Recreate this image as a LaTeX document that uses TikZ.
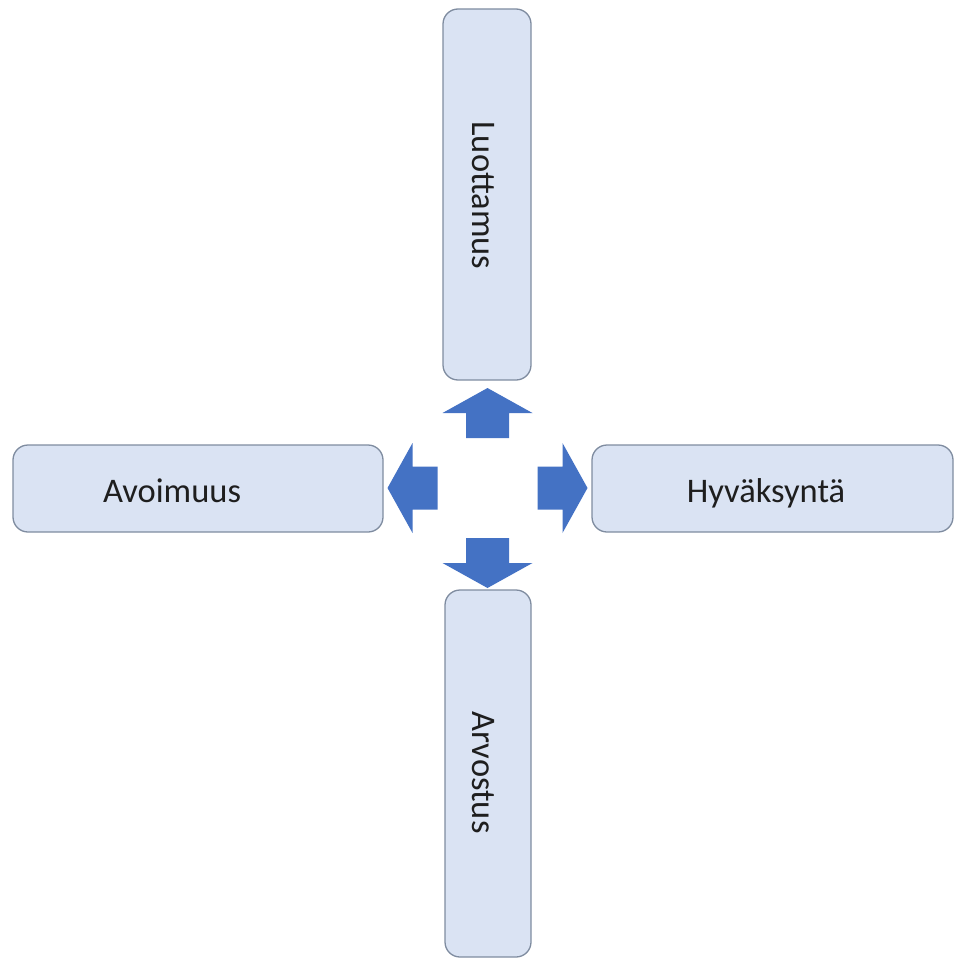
\documentclass[tikz,border=0pt]{standalone}
\usepackage{fontspec}
\setmainfont{Carlito}
\definecolor{boxfill}{HTML}{DAE3F3}
\definecolor{boxline}{HTML}{7F8CA0}
\definecolor{arrowblue}{HTML}{4472C4}
\definecolor{labeltext}{HTML}{1E1E1E}
\begin{document}
\begin{tikzpicture}[x=1pt, y=-1pt,
  box/.style={draw=boxline, fill=boxfill, line width=1.3pt,
    rounded corners=15pt, inner sep=0pt},
  lbl/.style={font=\fontsize{34.5}{41}\selectfont, text=labeltext,
    anchor=base, inner sep=0pt},
  blockarrow/.style={fill=arrowblue}]
\useasboundingbox (0,0) rectangle (954,958);

% the four boxes
\node (topbox)   [box, minimum width=88pt,  minimum height=371pt] at (487,194.5) {};
\node (leftbox)  [box, minimum width=370pt, minimum height=87pt]  at (198,488.5) {};
\node (rightbox) [box, minimum width=361pt, minimum height=87pt]  at (772.5,488.5) {};
\node (botbox)   [box, minimum width=86pt,  minimum height=367pt] at (488,773.5) {};

% labels
\node (luottamus)  [lbl, rotate=-90] at (472,195.5) {Luottamus};
\node (avoimuus)   [lbl] at (172,502) {Avoimuus};
\node (hyvaksynta) [lbl] at (766,502) {Hyväksyntä};
\node (arvostus)   [lbl, rotate=-90] at (472,772.5) {Arvostus};

% block arrows pointing outwards from the hub
\coordinate (hub) at (487.5,488);
\foreach \ang in {0,90,180,270}{
  \begin{scope}[shift={(hub)}, rotate=\ang]
    \fill[blockarrow] (50,-21.5) -- (75,-21.5) -- (75,-45) -- (100,0)
      -- (75,45) -- (75,21.5) -- (50,21.5) -- cycle;
  \end{scope}
}
\end{tikzpicture}
\end{document}
